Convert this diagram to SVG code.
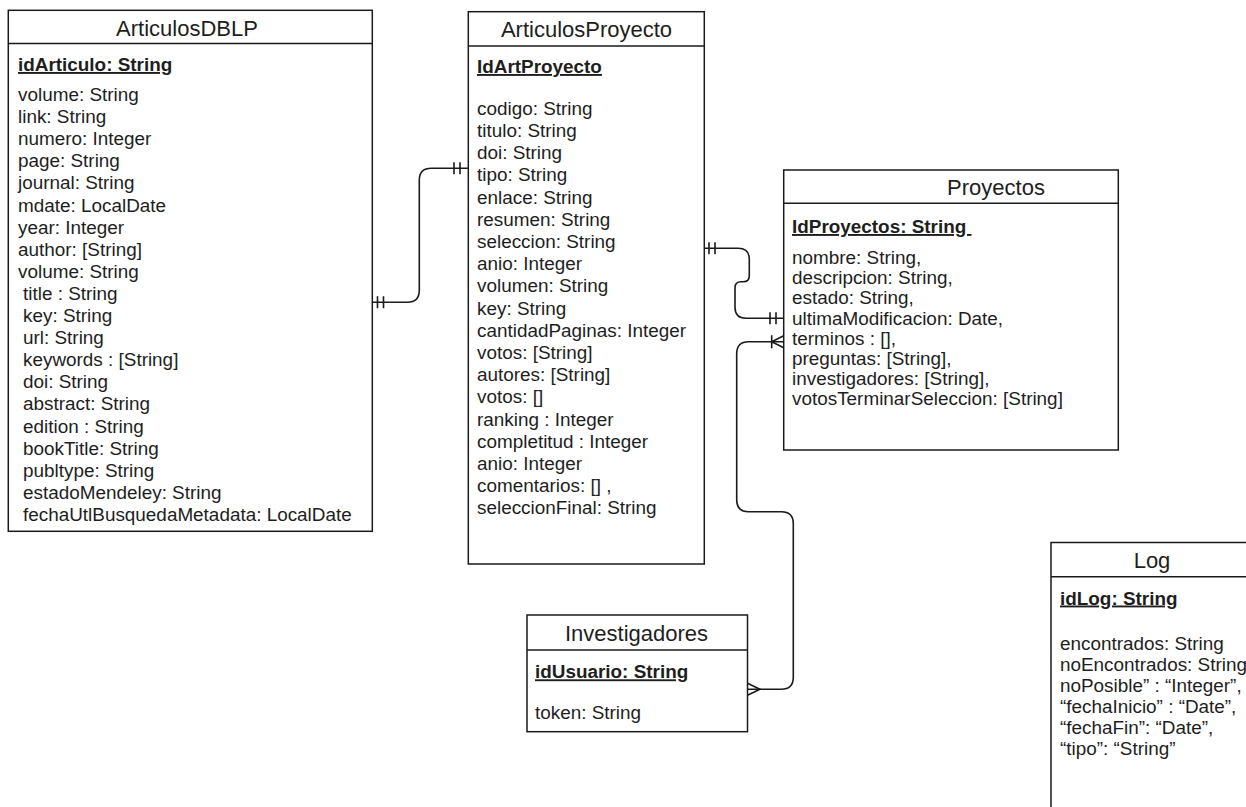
<svg xmlns="http://www.w3.org/2000/svg" width="1246" height="807" viewBox="0 0 1246 807">
  <style>
    .box { fill: #ffffff; stroke: #1a1a1a; stroke-width: 1.5; }
    .sep { stroke: #1a1a1a; stroke-width: 1.5; }
    .title { font-family: "Liberation Sans", Arial, sans-serif; font-size: 22px; fill: #1e1e1e; text-anchor: middle; }
    .attr { font-family: "Liberation Sans", Arial, sans-serif; font-size: 18.9px; fill: #1e1e1e; }
    .key { font-weight: bold; text-decoration: underline; }
    .edge { fill: none; stroke: #1a1a1a; stroke-width: 1.6; }
  </style>

  <rect width="1246" height="807" fill="#ffffff"/>

  <!-- ArticulosDBLP -->
  <g id="articulosDBLP">
    <rect class="box" x="8.3" y="10.3" width="364" height="521"/>
    <line class="sep" x1="8.3" y1="43.5" x2="372.3" y2="43.5"/>
    <text class="title" x="187" y="36">ArticulosDBLP</text>
    <text class="attr key" x="18" y="71">idArticulo: String</text>
    <text class="attr" x="18" y="101">volume: String</text>
    <text class="attr" x="18" y="123.1">link: String</text>
    <text class="attr" x="18" y="145.2">numero: Integer</text>
    <text class="attr" x="18" y="167.3">page: String</text>
    <text class="attr" x="18" y="189.4">journal: String</text>
    <text class="attr" x="18" y="211.5">mdate: LocalDate</text>
    <text class="attr" x="18" y="233.6">year: Integer</text>
    <text class="attr" x="18" y="255.7">author: [String]</text>
    <text class="attr" x="18" y="277.8">volume: String</text>
    <text class="attr" x="23" y="299.9">title : String</text>
    <text class="attr" x="23" y="322">key: String</text>
    <text class="attr" x="23" y="344.1">url: String</text>
    <text class="attr" x="23" y="366.2">keywords : [String]</text>
    <text class="attr" x="23" y="388.3">doi: String</text>
    <text class="attr" x="23" y="410.4">abstract: String</text>
    <text class="attr" x="23" y="432.5">edition : String</text>
    <text class="attr" x="23" y="454.6">bookTitle: String</text>
    <text class="attr" x="23" y="476.7">publtype: String</text>
    <text class="attr" x="23" y="498.8">estadoMendeley: String</text>
    <text class="attr" x="23" y="520.9">fechaUtlBusquedaMetadata: LocalDate</text>
  </g>

  <!-- ArticulosProyecto -->
  <g id="articulosProyecto">
    <rect class="box" x="468.3" y="11.7" width="236" height="552.3"/>
    <line class="sep" x1="468.3" y1="46" x2="704.3" y2="46"/>
    <text class="title" x="586.5" y="37">ArticulosProyecto</text>
    <text class="attr key" x="477" y="73">IdArtProyecto</text>
    <text class="attr" x="477" y="114.8">codigo: String</text>
    <text class="attr" x="477" y="137">titulo: String</text>
    <text class="attr" x="477" y="159.2">doi: String</text>
    <text class="attr" x="477" y="181.4">tipo: String</text>
    <text class="attr" x="477" y="203.6">enlace: String</text>
    <text class="attr" x="477" y="225.8">resumen: String</text>
    <text class="attr" x="477" y="248">seleccion: String</text>
    <text class="attr" x="477" y="270.2">anio: Integer</text>
    <text class="attr" x="477" y="292.4">volumen: String</text>
    <text class="attr" x="477" y="314.6">key: String</text>
    <text class="attr" x="477" y="336.8">cantidadPaginas: Integer</text>
    <text class="attr" x="477" y="359">votos: [String]</text>
    <text class="attr" x="477" y="381.2">autores: [String]</text>
    <text class="attr" x="477" y="403.4">votos: []</text>
    <text class="attr" x="477" y="425.6">ranking : Integer</text>
    <text class="attr" x="477" y="447.8">completitud : Integer</text>
    <text class="attr" x="477" y="470">anio: Integer</text>
    <text class="attr" x="477" y="492.2">comentarios: [] ,</text>
    <text class="attr" x="477" y="514.4">seleccionFinal: String</text>
  </g>

  <!-- Proyectos -->
  <g id="proyectos">
    <rect class="box" x="783.7" y="170" width="334.6" height="280"/>
    <line class="sep" x1="783.7" y1="203.3" x2="1118.3" y2="203.3"/>
    <text class="title" x="996" y="195">Proyectos</text>
    <text class="attr key" x="792" y="233">IdProyectos: String&#160;</text>
    <text class="attr" x="792" y="264">nombre: String,</text>
    <text class="attr" x="792" y="284.2">descripcion: String,</text>
    <text class="attr" x="792" y="304.4">estado: String,</text>
    <text class="attr" x="792" y="324.6">ultimaModificacion: Date,</text>
    <text class="attr" x="792" y="344.8">terminos : [],</text>
    <text class="attr" x="792" y="365">preguntas: [String],</text>
    <text class="attr" x="792" y="385.2">investigadores: [String],</text>
    <text class="attr" x="792" y="405.4">votosTerminarSeleccion: [String]</text>
  </g>

  <!-- Investigadores -->
  <g id="investigadores">
    <rect class="box" x="527" y="615" width="220.5" height="116.7"/>
    <line class="sep" x1="527" y1="650" x2="747.5" y2="650"/>
    <text class="title" x="636.5" y="641">Investigadores</text>
    <text class="attr key" x="535" y="678.3">idUsuario: String</text>
    <text class="attr" x="535" y="719.3">token: String</text>
  </g>

  <!-- Log -->
  <g id="log">
    <rect class="box" x="1051" y="542.5" width="250" height="300"/>
    <line class="sep" x1="1051" y1="576.7" x2="1301" y2="576.7"/>
    <text class="title" x="1152" y="568">Log</text>
    <text class="attr key" x="1060" y="604.5">idLog: String</text>
    <text class="attr" x="1060" y="649.5">encontrados: String</text>
    <text class="attr" x="1060" y="670.5">noEncontrados: String</text>
    <text class="attr" x="1060" y="691.5">noPosible” : “Integer”,</text>
    <text class="attr" x="1060" y="712.5">“fechaInicio” : “Date”,</text>
    <text class="attr" x="1060" y="733.5">“fechaFin”: “Date”,</text>
    <text class="attr" x="1060" y="754.5">“tipo”: “String”</text>
  </g>

  <!-- Relationships -->
  <g id="connectors">
    <!-- ArticulosDBLP (one) to ArticulosProyecto (one) -->
    <path class="edge" d="M372.3,302.3 H407.3 Q419.3,302.3 419.3,290.3 V180.3 Q419.3,168.3 431.3,168.3 H468.3"/>
    <path class="edge" d="M377.5,296.3 V308.3 M383.5,296.3 V308.3"/>
    <path class="edge" d="M454,162.3 V174.3 M460,162.3 V174.3"/>

    <!-- ArticulosProyecto (one) to Proyectos (one) -->
    <path class="edge" d="M704.3,248.3 H738.3 Q749.3,248.3 749.3,259.3 V275.7 Q749.3,281.7 743.3,281.7 H741 Q735,281.7 735,287.7 V307.3 Q735,318.3 746,318.3 H783.7"/>
    <path class="edge" d="M709,242.3 V254.3 M715,242.3 V254.3"/>
    <path class="edge" d="M770,312.3 V324.3 M776,312.3 V324.3"/>

    <!-- Proyectos (one or many) to Investigadores (many) -->
    <path class="edge" d="M783.7,341.7 H748.7 Q736.7,341.7 736.7,353.7 V499.7 Q736.7,511.7 748.7,511.7 H781.3 Q793.3,511.7 793.3,523.7 V677.3 Q793.3,689.3 781.3,689.3 H747.5"/>
    <path class="edge" d="M783.7,335.7 L771.7,341.7 L783.7,347.7 M771.7,335.2 V348.2"/>
    <path class="edge" d="M747.5,683.3 L760,689.3 L747.5,695.3"/>
  </g>
</svg>
